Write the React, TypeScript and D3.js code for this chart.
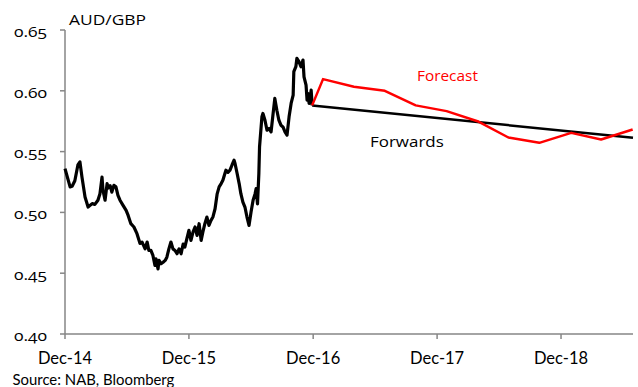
import React from "react";
import * as d3 from "d3";

const histDates = [
  "2014-12-01","2014-12-16","2014-12-22","2014-12-30","2015-01-08","2015-01-14","2015-01-20","2015-01-29",
  "2015-02-07","2015-02-19","2015-02-27","2015-03-08","2015-03-14","2015-03-20","2015-03-23","2015-03-29",
  "2015-04-04","2015-04-07","2015-04-13","2015-04-18","2015-04-24","2015-04-30","2015-05-06","2015-05-12",
  "2015-05-21","2015-05-30","2015-06-05","2015-06-13","2015-06-22","2015-07-01","2015-07-10","2015-07-16",
  "2015-07-25","2015-07-31","2015-08-05","2015-08-11","2015-08-17","2015-08-23","2015-08-26","2015-09-01",
  "2015-09-04","2015-09-10","2015-09-16","2015-09-22","2015-09-27","2015-10-03","2015-10-09","2015-10-15",
  "2015-10-21","2015-10-27","2015-11-02","2015-11-08","2015-11-14","2015-11-19","2015-11-25","2015-12-01",
  "2015-12-07","2015-12-13","2015-12-19","2015-12-25","2015-12-31","2016-01-06","2016-01-11","2016-01-17",
  "2016-01-23","2016-01-29","2016-02-04","2016-02-10","2016-02-16","2016-02-22","2016-02-28","2016-03-05",
  "2016-03-10","2016-03-16","2016-03-19","2016-03-25","2016-03-31","2016-04-06","2016-04-12","2016-04-15",
  "2016-04-21","2016-04-27","2016-05-02","2016-05-08","2016-05-14","2016-05-20","2016-05-26","2016-06-01",
  "2016-06-07","2016-06-13","2016-06-16","2016-06-20","2016-06-24","2016-06-26","2016-07-03","2016-07-06",
  "2016-07-12","2016-07-18","2016-07-24","2016-07-30","2016-08-05","2016-08-10","2016-08-16","2016-08-22",
  "2016-08-28","2016-09-03","2016-09-09","2016-09-15","2016-09-21","2016-09-27","2016-10-03","2016-10-05",
  "2016-10-11","2016-10-14","2016-10-20","2016-10-26","2016-11-01","2016-11-04","2016-11-10","2016-11-13",
  "2016-11-16","2016-11-19","2016-11-22","2016-11-25","2016-11-28",
];
const histValues = [
  0.536,0.521,0.5215,0.526,0.539,0.5415,0.529,0.5127,
  0.5044,0.5072,0.5066,0.51,0.5154,0.529,0.518,0.51,
  0.5237,0.52,0.522,0.5167,0.5222,0.521,0.514,0.51,
  0.5058,0.5017,0.4975,0.4907,0.488,0.4825,0.4745,0.4756,
  0.47,0.4756,0.4687,0.4687,0.4646,0.4564,0.4618,0.4536,
  0.4605,0.4578,0.459,0.4605,0.4632,0.47,0.4756,0.47,
  0.4687,0.466,0.47,0.466,0.474,0.4715,0.4784,0.4852,
  0.477,0.4838,0.488,0.4811,0.4907,0.477,0.4838,0.4907,
  0.4962,0.4893,0.4934,0.4965,0.503,0.515,0.521,0.5237,
  0.5264,0.532,0.5347,0.533,0.5347,0.539,0.543,0.54,
  0.532,0.5237,0.5154,0.5085,0.5044,0.4962,0.4893,0.5003,
  0.51,0.5154,0.5195,0.507,0.532,0.5538,0.5786,0.5814,
  0.5758,0.5676,0.569,0.5662,0.5814,0.5937,0.584,0.5758,
  0.5717,0.5703,0.5662,0.5635,0.5786,0.5896,0.5964,0.6157,
  0.6198,0.6267,0.624,0.6198,0.6253,0.6115,0.6047,0.5923,
  0.5978,0.5896,0.5937,0.6005,0.588,
];

const forecastDates = [
  "2016-11-28","2016-12-30","2017-03-31","2017-06-30","2017-09-29","2017-12-29",
  "2018-03-30","2018-06-29","2018-09-28","2018-12-31","2019-03-29","2019-06-30",
];
const forecastValues = [0.588,0.6096,0.6033,0.600,0.588,0.5833,0.575,0.5616,0.5572,0.5654,0.560,0.5682];

const forwardDates = ["2016-11-28","2019-07-01"];
const forwardValues = [0.588,0.5614];

const yTicks = [0.40,0.45,0.50,0.55,0.60,0.65];
const xTickDates = ["2014-12-01","2015-12-01","2016-12-01","2017-12-01","2018-12-01"];
const xTickLabels = ["Dec-14","Dec-15","Dec-16","Dec-17","Dec-18"];

const parse = d3.timeParse("%Y-%m-%d");

export default function App() {
  const W = 638, H = 387;
  const x = d3.scaleTime()
    .domain([parse("2014-12-01")!, parse("2019-07-01")!])
    .range([65, 633]);
  const y = d3.scaleLinear().domain([0.40, 0.65]).range([334, 30]);
  const line = d3.line<[Date, number]>().x(d => x(d[0])).y(d => y(d[1]));

  const hist = histDates.map((d, i) => [parse(d)!, histValues[i]] as [Date, number]);
  const fc = forecastDates.map((d, i) => [parse(d)!, forecastValues[i]] as [Date, number]);
  const fw = forwardDates.map((d, i) => [parse(d)!, forwardValues[i]] as [Date, number]);

  const axisColor = "#868686";
  const humanist = "'Open Sans', sans-serif";
  const calibriLike = "Lato, sans-serif";

  return (
    <svg width={W} height={H} style={{ position: "absolute", left: 0, top: 0, background: "#fff" }}>
      {/* y axis */}
      <line x1={65} x2={65} y1={y(0.65)} y2={y(0.40)} stroke={axisColor} strokeWidth={1.5} />
      {yTicks.map(v => (
        <g key={v}>
          <line x1={60} x2={65} y1={y(v)} y2={y(v)} stroke={axisColor} strokeWidth={1.5} />
          <text
            transform={`translate(47,${y(v) + 6.7}) scale(1.2,1)`}
            textAnchor="end"
            fontFamily={humanist}
            fontSize={14.5}
            style={{ fontVariantNumeric: "oldstyle-nums" }}
            fill="#000"
          >
            {v.toFixed(2)}
          </text>
        </g>
      ))}
      {/* x axis */}
      <line x1={65} x2={633} y1={334} y2={334} stroke={axisColor} strokeWidth={1.5} />
      {xTickDates.map((d, i) => {
        const xx = x(parse(d)!);
        return (
          <g key={d}>
            <line x1={xx} x2={xx} y1={334} y2={339} stroke={axisColor} strokeWidth={1.5} />
            <text x={xx} y={364} textAnchor="middle" fontFamily={calibriLike} fontSize={16.5} fill="#000">
              {xTickLabels[i]}
            </text>
          </g>
        );
      })}

      <text transform="translate(69,25) scale(1.2,1)" fontFamily={humanist} fontSize={14.5} fill="#000">
        AUD/GBP
      </text>

      <path d={line(hist)!} fill="none" stroke="#000" strokeWidth={3.2} strokeLinejoin="round" />
      <path d={line(fw)!} fill="none" stroke="#000" strokeWidth={2.5} />
      <path d={line(fc)!} fill="none" stroke="#ff0000" strokeWidth={2.5} strokeLinejoin="round" />

      <text transform="translate(417,81) scale(1.1,1)" fontFamily={humanist} fontSize={14} fill="#ff0000">
        Forecast
      </text>
      <text transform="translate(370,147.3) scale(1.13,1)" fontFamily={humanist} fontSize={15} fill="#000">
        Forwards
      </text>

      <text x={12.5} y={385} fontFamily={calibriLike} fontSize={14.9} fill="#000">
        Source: NAB, Bloomberg
      </text>
    </svg>
  );
}
